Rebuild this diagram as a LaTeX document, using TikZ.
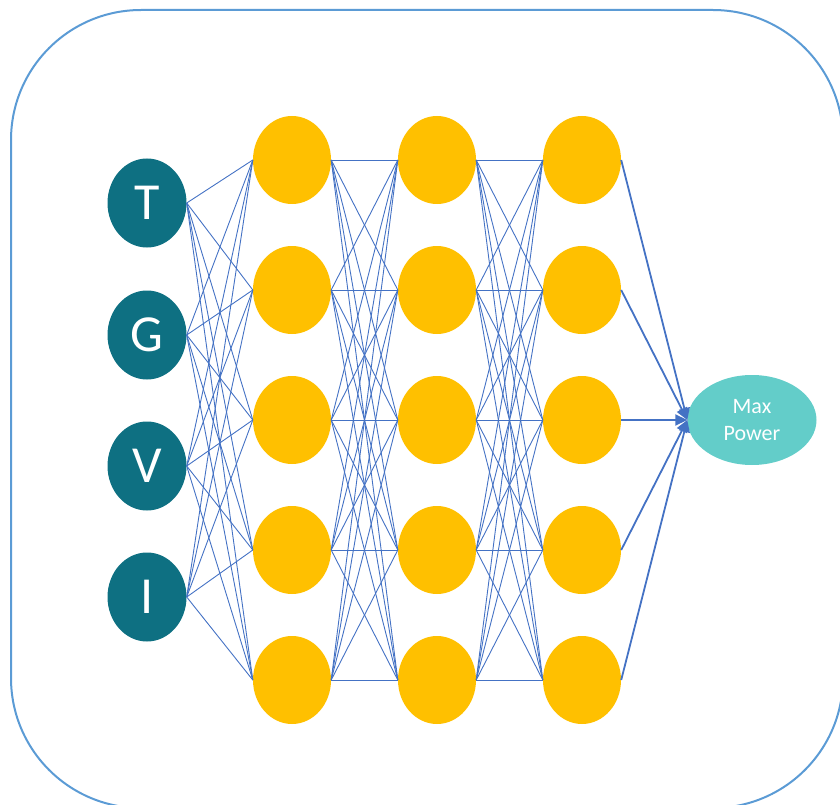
\documentclass[tikz,border=0pt]{standalone}
\usepackage{fontspec}
\setmainfont{Carlito}
\usetikzlibrary{shapes.geometric,arrows.meta}
\definecolor{frame}{HTML}{5B9BD5}
\definecolor{inputc}{HTML}{0E7082}
\definecolor{hidden}{HTML}{FFC000}
\definecolor{outc}{HTML}{63CDC9}
\definecolor{link}{HTML}{4472C4}
\tikzset{
  inputnode/.style={ellipse, fill=inputc, minimum width=79pt, minimum height=89pt, inner sep=0pt, text=white, font=\fontsize{52}{52}\selectfont},
  hiddennode/.style={ellipse, fill=hidden, minimum width=78pt, minimum height=88pt, inner sep=0pt},
  outnode/.style={ellipse, fill=outc, minimum width=129pt, minimum height=90pt, inner sep=0pt, text=white, align=center, font=\fontsize{22}{27}\selectfont},
  thinlink/.style={draw=link, line width=0.9pt},
  outlink/.style={draw=link, line width=1.8pt, -{Triangle[length=12pt,width=11pt]}},
}
\begin{document}
\begin{tikzpicture}[x=1pt,y=-1pt]
\useasboundingbox (0,0) rectangle (840,805);
\clip (0,0) rectangle (840,805);
\draw[frame, line width=2pt, rounded corners=130pt] (11,10) rectangle (843,808);
% inputs
\node[inputnode] (i1) at (147,203) {T};
\node[inputnode] (i2) at (147,335) {G};
\node[inputnode] (i3) at (147,466) {V};
\node[inputnode] (i4) at (147,597) {I};
% hidden layers
\foreach \c/\x in {1/292,2/437,3/582}{
  \foreach \r/\y in {1/160,2/290,3/420,4/550,5/680}{
    \node[hiddennode] (h\c\r) at (\x,\y) {};
  }
}
\node[outnode] (out) at (752,420) {Max\\Power};
% connections
\foreach \a in {1,...,4}{
  \foreach \b in {1,...,5}{
    \draw[thinlink] (i\a.east) -- (h1\b.west);
  }
}
\foreach \a in {1,...,5}{
  \foreach \b in {1,...,5}{
    \draw[thinlink] (h1\a.east) -- (h2\b.west);
    \draw[thinlink] (h2\a.east) -- (h3\b.west);
  }
}
\foreach \a in {1,...,5}{
  \draw[outlink] (h3\a.east) -- (out.west);
}
\end{tikzpicture}
\end{document}
